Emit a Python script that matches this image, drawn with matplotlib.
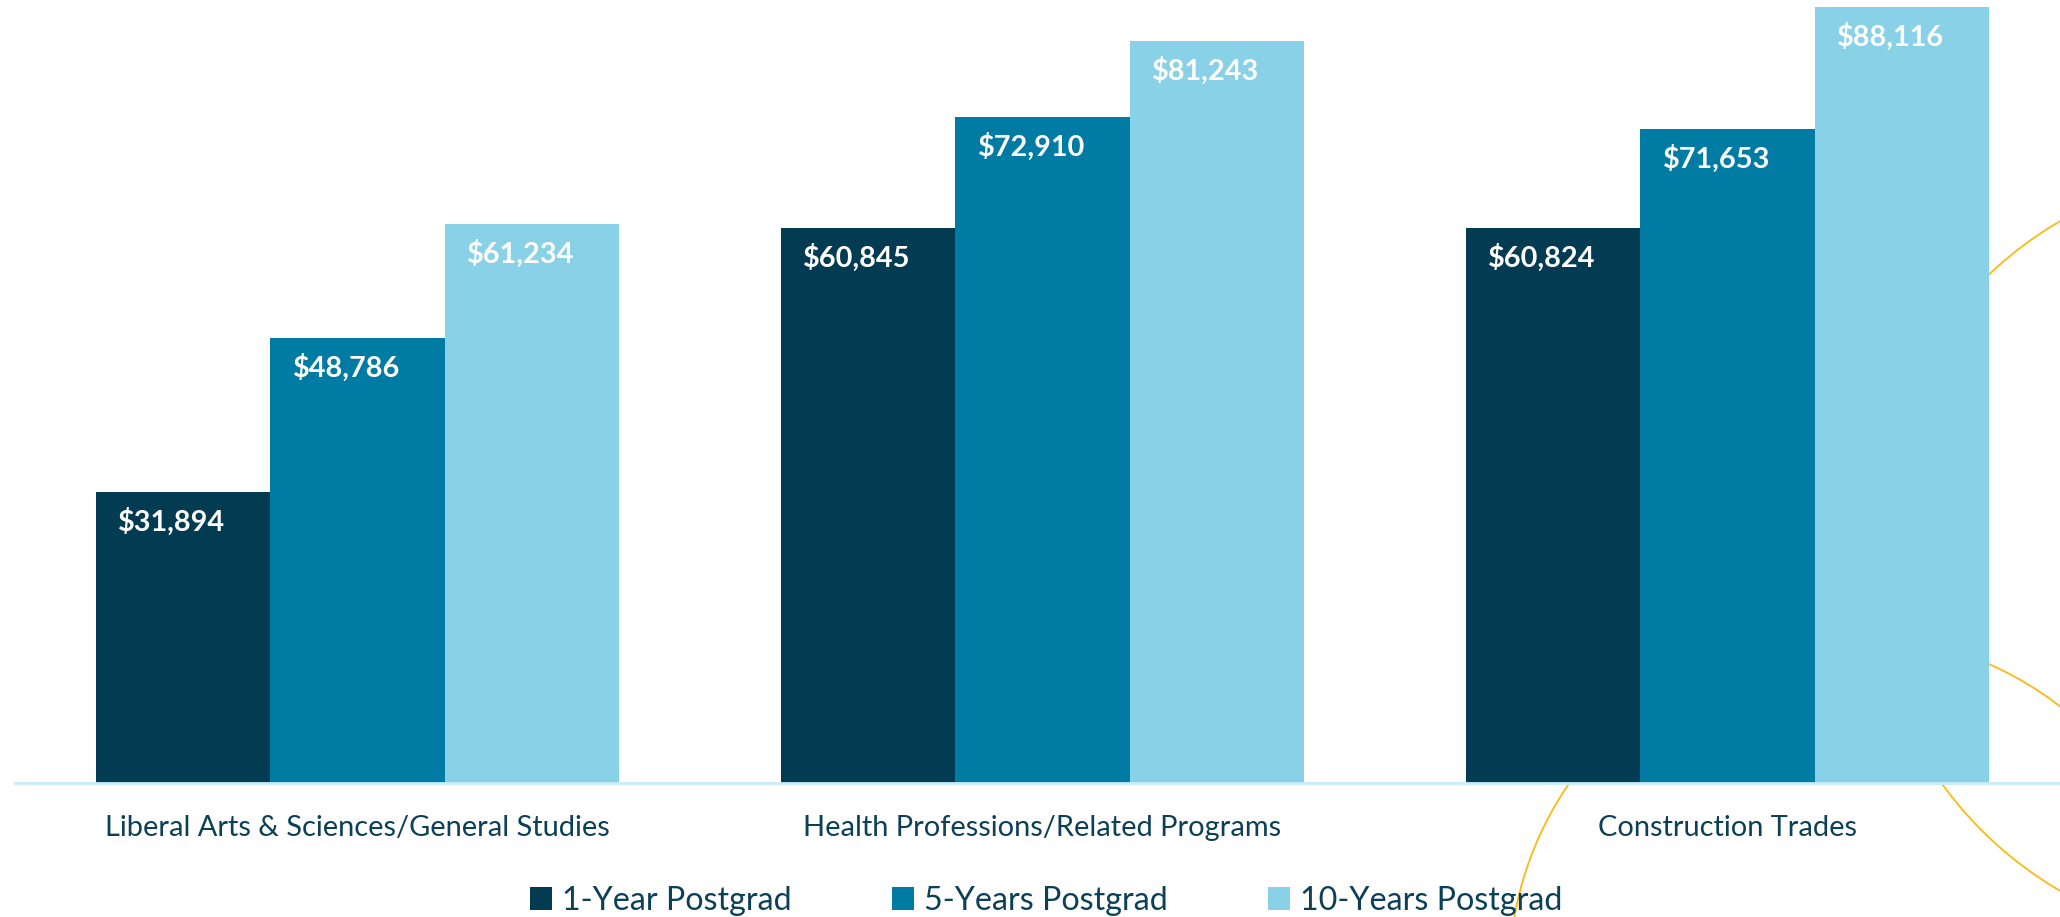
import numpy as np
import matplotlib
matplotlib.use("Agg")
from matplotlib import pyplot as plt
from matplotlib.patches import Patch, Circle

categories = ["Liberal Arts & Sciences/General Studies",
              "Health Professions/Related Programs",
              "Construction Trades"]
series_names = ["1-Year Postgrad", "5-Years Postgrad", "10-Years Postgrad"]
one_year = [31894, 60845, 60824]
five_years = [48786, 72910, 71653]
ten_years = [61234, 81243, 88116]

colors = ["#033B52", "#007BA4", "#88D1E6"]
text_color = "#0B4057"
gold = "#FDB913"

plt.rcParams['font.family'] = ['Lato', 'DejaVu Sans']

W, H = 2060, 917
fig = plt.figure(figsize=(W / 100, H / 100), dpi=100)
fig.patch.set_facecolor("white")

# decorative circles behind the chart (pixel coords, y down)
bg = fig.add_axes([0, 0, 1, 1], zorder=0)
bg.set_xlim(0, W)
bg.set_ylim(H, 0)
bg.axis("off")
for cx, cy, r in [(2256, 556, 388), (1851, 977, 342)]:
    bg.add_patch(Circle((cx, cy), r, fill=False, edgecolor=gold, lw=1.3))

# main axes: plot area from x=15 to 2070 px, y=7 to 783 px
left, right, top, bottom = 15, 2070, 7, 783
ax = fig.add_axes([left / W, (H - bottom) / H, (right - left) / W, (bottom - top) / H], zorder=1)
ax.patch.set_alpha(0)

ymax = 85000
x = np.arange(len(categories))
width = 0.2547
all_series = [one_year, five_years, ten_years]
for i, (vals, c, name) in enumerate(zip(all_series, colors, series_names)):
    pos = x + (i - 1) * width
    ax.bar(pos, vals, width=width, color=c, label=name, zorder=2)
    for px, v in zip(pos, vals):
        ax.annotate("${:,}".format(v), xy=(px, min(v, ymax)), xytext=(-8, -21.5),
                    textcoords="offset points", ha="center", va="center",
                    color="white", fontsize=20.8, fontweight="bold", zorder=3)

ax.set_xlim(-0.5, 2.5)
ax.set_ylim(0, ymax)
ax.set_yticks([])
ax.set_xticks(x)
ax.set_xticklabels(categories, fontsize=20.9, color=text_color)
ax.tick_params(axis="x", length=0, pad=23)
for s in ["top", "left", "right"]:
    ax.spines[s].set_visible(False)
ax.spines["bottom"].set_color("#C8EEFA")
ax.spines["bottom"].set_linewidth(2)

handles = [Patch(facecolor=c, edgecolor="none") for c in colors]
leg = fig.legend(handles, series_names, loc="center", bbox_to_anchor=(1046 / W, 1 - 901 / H),
                 ncol=3, frameon=False, fontsize=23.2, handlelength=0.7, handleheight=0.7,
                 handletextpad=0.3, columnspacing=3.1)
for t in leg.get_texts():
    t.set_color(text_color)

plt.savefig("out.png", dpi=100)
